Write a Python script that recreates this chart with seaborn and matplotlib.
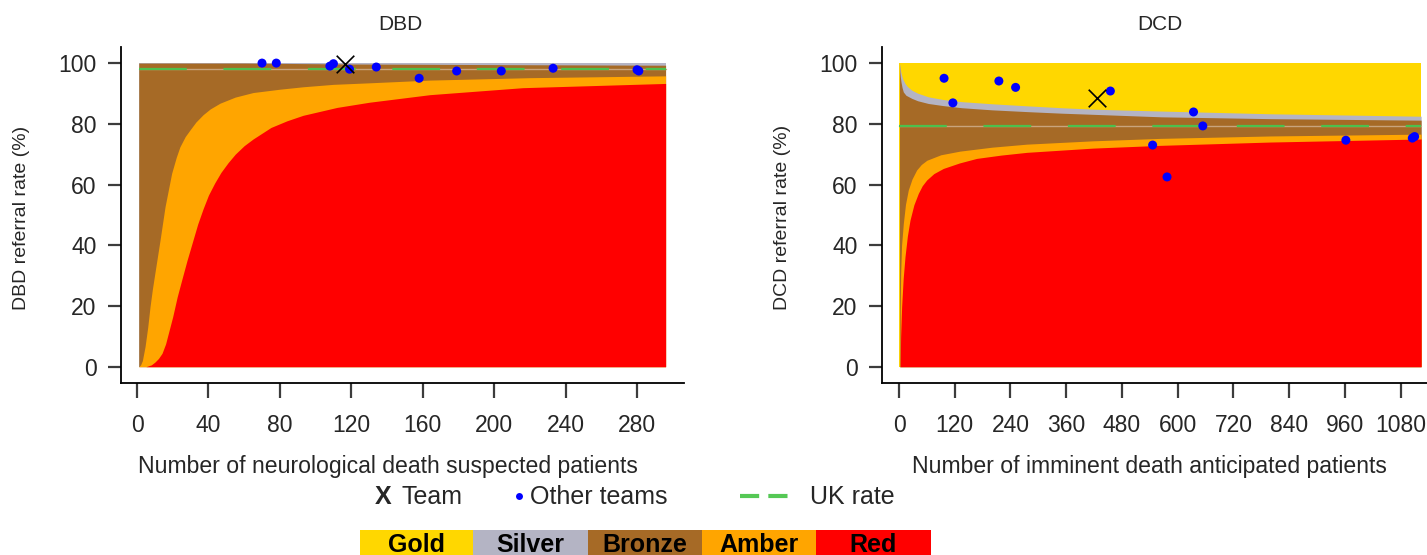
import matplotlib
matplotlib.use("Agg")
import numpy as np
import pandas as pd
import seaborn as sns
import matplotlib.pyplot as plt
from matplotlib.lines import Line2D
from matplotlib.patches import Rectangle

# ---------------- data ----------------
# DBD panel
dbd_n_range = [1, 296]
dbd_uk_rate = 98.0
dbd_gold_lo_n = [1, 296]
dbd_gold_lo = [100, 100]
dbd_silver_lo_n = [1, 60, 120, 200, 296]
dbd_silver_lo = [100, 100, 99.7, 99.5, 99.3]
dbd_amber_hi_n = [1, 2, 3, 4.5, 6, 7.3, 8.6, 10, 12.9, 15.7, 19.4, 22, 24, 27, 29.7, 33, 37,
                  41, 46.5, 55, 65, 80, 93, 110, 130, 164, 220, 296]
dbd_amber_hi = [0, 0.6, 2, 6.6, 13, 19.8, 25.5, 30.8, 41.7, 52.7, 63.7, 69, 72.4, 75.8, 78,
                80.6, 83, 84.9, 86.8, 88.8, 90.3, 91.4, 92.2, 93.0, 93.5, 94.4, 95.2, 95.8]
dbd_red_hi_n = [5, 8, 10, 12, 14, 16, 18, 20, 22.5, 25, 28, 31, 34, 37, 40, 43.5, 47, 51, 55,
                60, 65, 75, 84, 93, 112, 130, 164, 216, 296]
dbd_red_hi = [0, 0.6, 1.5, 2.7, 4.4, 7.5, 12, 16.5, 23, 28.5, 35, 41, 47, 52, 56.5, 60.5, 64,
              67.2, 70, 72.8, 75, 78.8, 81, 82.8, 85.4, 87.1, 89.6, 91.9, 93.3]
dbd_team_n = [116.5]
dbd_team_rate = [99.8]
dbd_other_n = [70, 78, 108, 110, 119, 134, 158, 179, 204, 233, 280, 281]
dbd_other_rate = [100, 100, 99.0, 99.8, 98.0, 98.7, 95.0, 97.4, 97.4, 98.3, 97.8, 97.4]
dbd_xticks = [0, 40, 80, 120, 160, 200, 240, 280]

# DCD panel
dcd_n_range = [1, 1124]
dcd_uk_rate = 79.3
dcd_gold_lo_n = [1, 2, 3, 4, 5.7, 8, 12.9, 18, 27.3, 40, 63, 95, 135, 200, 278, 350, 422,
                 565, 800, 1124]
dcd_gold_lo = [100, 99, 98, 97, 96.0, 94.8, 93.3, 92.3, 91.1, 90.1, 88.9, 88.0, 87.3, 86.6,
               85.9, 85.3, 84.8, 84.2, 83.3, 82.5]
dcd_silver_lo_n = [1, 1.5, 2, 3, 4.3, 6.5, 9.3, 15, 27.3, 40, 63, 95, 135, 200, 278, 350, 422,
                   565, 800, 1124]
dcd_silver_lo = [100, 98.5, 97, 95.3, 93.8, 92, 90.5, 89.4, 88.4, 87.6, 86.7, 86.0, 85.3, 84.6,
                 84.0, 83.5, 83.1, 82.3, 81.7, 81.2]
dcd_amber_hi_n = [2, 2.5, 3.6, 5.5, 9.3, 14, 20, 28, 38, 48, 60, 90, 131, 200, 275, 418, 562,
                  800, 1124]
dcd_amber_hi = [0, 18, 30.8, 40, 47.2, 53.5, 58.2, 61.8, 64.8, 66.6, 68, 69.8, 71, 72.3, 73.3,
                74.4, 75.2, 76, 76.6]
dcd_red_hi_n = [2.5, 3.5, 5.7, 9, 12.9, 18, 23.7, 32, 41.6, 50, 59.6, 75, 95.4, 130, 167, 220,
                275, 418, 562, 800, 1124]
dcd_red_hi = [0, 10, 19.8, 29, 36.2, 43, 48.3, 53.3, 57.1, 59.6, 61.5, 63.6, 65.3, 67.1, 68.6,
              69.7, 70.6, 72.0, 72.9, 74.0, 75.0]
dcd_team_n = [427]
dcd_team_rate = [88.4]
dcd_other_n = [97, 116, 215, 251, 455, 546, 577, 634, 654, 962, 1105, 1110]
dcd_other_rate = [95.0, 86.9, 94.1, 92.0, 90.8, 73.0, 62.5, 83.9, 79.3, 74.6, 75.3, 75.8]
dcd_xticks = [0, 120, 240, 360, 480, 600, 720, 840, 960, 1080]

yticks = [0, 20, 40, 60, 80, 100]
band_names = ["Gold", "Silver", "Bronze", "Amber", "Red"]

# ---------------- style ----------------
sns.set_theme(style="white")
plt.rcParams["font.family"] = ["Liberation Sans", "DejaVu Sans"]

GOLD, SILVER, BRONZE, AMBER, RED = "#FFD700", "#B4B4C4", "#A66A26", "#FFA500", "#FF0000"
band_colors = [GOLD, SILVER, BRONZE, AMBER, RED]
GREEN = "#4DC04D"
SEAM = "#C9A47C"

W, H = 1427, 555
fig = plt.figure(figsize=(W / 100, H / 100), dpi=100)
axL = fig.add_axes([121 / W, 1 - 383 / H, 563 / W, 336 / H])
axR = fig.add_axes([882 / W, 1 - 383 / H, 563 / W, 336 / H])


def draw_panel(ax, n_range, uk, g_n, g, s_n, s, a_n, a, r_n, r,
               team_n, team_rate, other_n, other_rate, xticks, xlim, ylabel, xlabel):
    ax.fill_between(n_range, 0, 100, color=GOLD, lw=0)
    ax.fill_between(g_n, 0, g, color=SILVER, lw=0)
    ax.fill_between(s_n, 0, s, color=BRONZE, lw=0)
    ax.fill_between(a_n, 0, a, color=AMBER, lw=0)
    ax.fill_between(r_n, 0, r, color=RED, lw=0)
    uk_df = pd.DataFrame({"n": n_range, "rate": [uk, uk]})
    ax.plot(uk_df["n"], uk_df["rate"], color=SEAM, lw=1.0, zorder=3)
    sns.lineplot(data=uk_df, x="n", y="rate", ax=ax, color=GREEN, lw=1.6, zorder=4)
    ax.lines[-1].set_linestyle((0, (21.5, 16.5)))
    oth = pd.DataFrame({"n": other_n, "rate": other_rate})
    sns.scatterplot(data=oth, x="n", y="rate", ax=ax, color="#0000FF", s=42,
                    edgecolor="none", zorder=5)
    tm = pd.DataFrame({"n": team_n, "rate": team_rate})
    sns.scatterplot(data=tm, x="n", y="rate", ax=ax, marker="x", color="black",
                    s=160, linewidth=1.2, zorder=6)
    ax.set_xlim(*xlim)
    ax.set_ylim(-5.37, 105.3)
    ax.set_xticks(xticks)
    ax.set_yticks(yticks)
    ax.set_xticklabels([str(t) for t in xticks])
    ax.set_yticklabels([str(t) for t in yticks])
    for sp in ["top", "right"]:
        ax.spines[sp].set_visible(False)
    for sp in ["left", "bottom"]:
        ax.spines[sp].set_color("black")
        ax.spines[sp].set_linewidth(1.3)
    ax.tick_params(axis="y", direction="out", length=9.5, width=1.6, color="#3c3c3c",
                   labelsize=16.5, pad=8, left=True)
    ax.tick_params(axis="x", direction="out", length=10.5, width=1.6, color="#3c3c3c",
                   labelsize=16.5, pad=12, bottom=True)
    ax.set_xlabel(xlabel, fontsize=16.6)
    ax.xaxis.set_label_coords(0.475, -0.215)
    ax.xaxis.label.set_va("top")
    ax.set_ylabel(ylabel, fontsize=14)
    ax.yaxis.label.set_va("center")
    ax.yaxis.set_label_coords(-0.176, 0.4926)
    ax.grid(False)
    ax.set_facecolor("white")


draw_panel(axL, dbd_n_range, dbd_uk_rate, dbd_gold_lo_n, dbd_gold_lo, dbd_silver_lo_n,
           dbd_silver_lo, dbd_amber_hi_n, dbd_amber_hi, dbd_red_hi_n, dbd_red_hi,
           dbd_team_n, dbd_team_rate, dbd_other_n, dbd_other_rate, dbd_xticks,
           (-8.96, 306.3), "DBD referral rate (%)", "Number of neurological death suspected patients")
draw_panel(axR, dcd_n_range, dcd_uk_rate, dcd_gold_lo_n, dcd_gold_lo, dcd_silver_lo_n,
           dcd_silver_lo, dcd_amber_hi_n, dcd_amber_hi, dcd_red_hi_n, dcd_red_hi,
           dcd_team_n, dcd_team_rate, dcd_other_n, dcd_other_rate, dcd_xticks,
           (-36.6, 1175.4), "DCD referral rate (%)", "Number of imminent death anticipated patients")

# titles
fig.text(400 / W, 1 - 24 / H, "DBD", ha="center", va="center", fontsize=15)
fig.text(1160 / W, 1 - 24 / H, "DCD", ha="center", va="center", fontsize=15)

# symbol legend
ly = 1 - 497 / H
fig.text(383 / W, ly, "X", ha="center", va="center", fontsize=18, fontweight="bold")
fig.text(401 / W, ly, "Team", ha="left", va="center", fontsize=18)
fig.add_artist(Line2D([519 / W], [ly + 0.002], marker="o", color="#0000FF", ms=5,
                      mec="none", transform=fig.transFigure))
fig.text(530 / W, ly, "Other teams", ha="left", va="center", fontsize=18)
fig.add_artist(Line2D([740 / W, 796 / W], [ly + 0.002, ly + 0.002], color="#55C855", lw=3,
                      linestyle=(0, (4.6, 2.2)), transform=fig.transFigure))
fig.text(810 / W, ly, "UK rate", ha="left", va="center", fontsize=18)

# colour legend
edges = [360, 473, 588, 702, 816, 931]
for i, (name, col) in enumerate(zip(band_names, band_colors)):
    x0, x1 = edges[i], edges[i + 1]
    fig.add_artist(Rectangle((x0 / W, -0.05), (x1 - x0) / W, 0.05 + 1 - 530 / H,
                             facecolor=col, edgecolor="none", transform=fig.transFigure))
    fig.text((x0 + x1) / 2 / W, 1 - 545 / H, name, ha="center", va="center",
             fontsize=18, fontweight="bold", color="black")

fig.savefig("out.png", dpi=100, facecolor="white")
